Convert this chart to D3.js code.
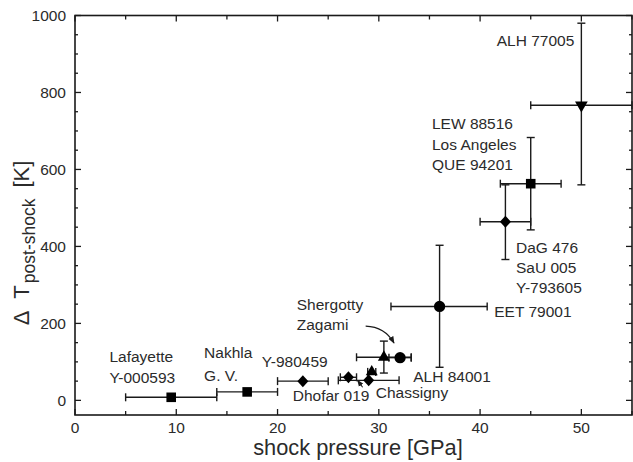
<!DOCTYPE html>
<html>
<head>
<meta charset="utf-8">
<script src="https://cdn.jsdelivr.net/npm/d3@7"></script>
<style>
  html, body { margin: 0; padding: 0; background: #fff; }
  svg { display: block; font-family: "Liberation Sans", Arial, sans-serif; }
</style>
</head>
<body>
<svg id="chart" width="633" height="462"></svg>
<script>
// Martian meteorites: post-shock temperature increase vs. shock pressure
const meteorites = ["Lafayette", "Nakhla", "Y-980459", "Dhofar 019", "Chassigny", "Shergotty (b)",
                    "Shergotty", "ALH 84001", "EET 79001", "DaG 476", "LEW 88516", "ALH 77005"];
const shock     = [9.5, 17,   22.5, 27,   29,   29.3, 30.5, 32.1, 36,   42.5, 45,   50];
const shockLow  = [5,   14,   20,   26.2, 26,   28.9, 27.8, 31,   31.2, 40,   42,   45];
const shockHigh = [14,  20,   25,   27.8, 32,   29.7, 33.2, 33.2, 40.7, 45,   48,   55];
const deltaT    = [8,   22,   50,   60,   52,   74,   112,  111,  244,  464,  563,  767];
const deltaTLow  = [null, null, null, null, null, null, 71,  null, 86,  366, 443, 560];
const deltaTHigh = [null, null, null, null, null, null, 154, null, 403, 560, 683, 980];
const markers   = ["square", "square", "diamond", "diamond", "diamond", "triangle",
                   "triangle", "circle", "circle", "diamond", "square", "triangleDown"];

const xTicks = [0, 10, 20, 30, 40, 50];
const yTicks = [0, 200, 400, 600, 800, 1000];

// Text annotations (anchor in data units, lines stacked downward)
const labels = [
  { lines: ["Lafayette", "Y-000593"], x: 3.4, y: 100, anchor: "start", gap: 21 },
  { lines: ["Nakhla", "G. V."], x: 12.75, y: 110, anchor: "start", gap: 22.5 },
  { lines: ["Y-980459"], x: 18.45, y: 88, anchor: "start" },
  { lines: ["Dhofar 019"], x: 21.5, y: -2, anchor: "start" },
  { lines: ["Chassigny"], x: 29.7, y: 6, anchor: "start" },
  { lines: ["ALH 84001"], x: 33.4, y: 49, anchor: "start" },
  { lines: ["Shergotty", "Zagami"], x: 21.9, y: 236, anchor: "start", gap: 20.5 },
  { lines: ["EET 79001"], x: 41.4, y: 217, anchor: "start" },
  { lines: ["DaG 476", "SaU 005", "Y-793605"], x: 43.55, y: 384, anchor: "start", gap: 20 },
  { lines: ["LEW 88516", "Los Angeles", "QUE 94201"], x: 35.25, y: 705, anchor: "start", gap: 20.5 },
  { lines: ["ALH 77005"], x: 49.3, y: 922, anchor: "end" }
];

const svg = d3.select("#chart");
const plotL = 75, plotR = 632, plotT = 15.5, plotB = 415;
const x = d3.scaleLinear().domain([0, 55]).range([plotL, plotR]);
const y = d3.scaleLinear().domain([-38, 1000]).range([plotB, plotT]);
const ink = "#1a1a1a";
const textInk = "#2b2b2b";

// Frame
svg.append("rect")
  .attr("x", plotL).attr("y", plotT)
  .attr("width", plotR - plotL).attr("height", plotB - plotT)
  .attr("fill", "none").attr("stroke", ink).attr("stroke-width", 1.6);

// Inward ticks on all four sides
const xMinor = d3.range(0, 56, 5);
const yMinor = d3.range(0, 1001, 50);
const tickG = svg.append("g").attr("stroke", ink).attr("stroke-width", 1.3);
xMinor.forEach(v => {
  const len = v % 10 === 0 ? 6 : 4;
  tickG.append("line").attr("x1", x(v)).attr("x2", x(v)).attr("y1", plotB).attr("y2", plotB - len);
  tickG.append("line").attr("x1", x(v)).attr("x2", x(v)).attr("y1", plotT).attr("y2", plotT + len);
});
yMinor.forEach(v => {
  const len = v % 200 === 0 ? 6 : 3;
  tickG.append("line").attr("y1", y(v)).attr("y2", y(v)).attr("x1", plotL).attr("x2", plotL + len);
  tickG.append("line").attr("y1", y(v)).attr("y2", y(v)).attr("x1", plotR).attr("x2", plotR - len);
});

// Tick labels
svg.append("g").selectAll("text").data(xTicks).join("text")
  .attr("x", d => x(d)).attr("y", 433)
  .attr("text-anchor", "middle").attr("font-size", 15.5).attr("fill", textInk)
  .text(d => d);
svg.append("g").selectAll("text").data(yTicks).join("text")
  .attr("x", 66).attr("y", d => y(d) + 5.5)
  .attr("text-anchor", "end").attr("font-size", 15.5).attr("fill", textInk)
  .text(d => d);

// Axis titles
svg.append("text")
  .attr("x", 358).attr("y", 455)
  .attr("text-anchor", "middle").attr("font-size", 21.8).attr("fill", textInk)
  .text("shock pressure [GPa]");

const yTitle = svg.append("text")
  .attr("transform", "translate(29,243) rotate(-90)")
  .attr("text-anchor", "middle").attr("font-size", 22).attr("fill", textInk);
yTitle.append("tspan").text("\u0394");
yTitle.append("tspan").attr("dx", 12).text("T");
yTitle.append("tspan").attr("font-size", 17.5).attr("dx", 2).attr("dy", 5.5).text("post-shock");
yTitle.append("tspan").attr("dx", 11).attr("dy", -5.5).text("[K]");

// Error bars
const cap = 4;
const bars = svg.append("g").attr("stroke", ink).attr("stroke-width", 1.4).attr("fill", "none");
shock.forEach((s, i) => {
  const cy = y(deltaT[i]);
  bars.append("line").attr("x1", x(shockLow[i])).attr("x2", x(shockHigh[i])).attr("y1", cy).attr("y2", cy);
  [shockLow[i], shockHigh[i]].forEach(v => {
    bars.append("line").attr("x1", x(v)).attr("x2", x(v)).attr("y1", cy - cap).attr("y2", cy + cap);
  });
  if (deltaTLow[i] !== null) {
    const cx = x(s);
    bars.append("line").attr("x1", cx).attr("x2", cx).attr("y1", y(deltaTLow[i])).attr("y2", y(deltaTHigh[i]));
    [deltaTLow[i], deltaTHigh[i]].forEach(v => {
      bars.append("line").attr("x1", cx - cap).attr("x2", cx + cap).attr("y1", y(v)).attr("y2", y(v));
    });
  }
});

// Markers
function markerPath(kind) {
  switch (kind) {
    case "square": return d3.symbol(d3.symbolSquare, 92)();
    case "circle": return d3.symbol(d3.symbolCircle, 100)();
    case "triangle": return d3.symbol(d3.symbolTriangle, 62)();
    case "triangleDown": return d3.symbol(d3.symbolTriangle, 70)();
    case "diamond": return "M0,-6L5.5,0L0,6L-5.5,0Z";
  }
}
svg.append("g").selectAll("path").data(shock).join("path")
  .attr("d", (d, i) => markerPath(markers[i]))
  .attr("transform", (d, i) => `translate(${x(d)},${y(deltaT[i])})` + (markers[i] === "triangleDown" ? " rotate(180)" : ""))
  .attr("fill", "#000");

// Labels
labels.forEach(l => {
  const t = svg.append("text")
    .attr("font-size", 15.5).attr("fill", textInk).attr("text-anchor", l.anchor);
  l.lines.forEach((line, k) => {
    t.append("tspan").attr("x", x(l.x)).attr("y", y(l.y) + k * (l.gap || 20)).text(line);
  });
});

// Pointer arrows
svg.append("defs").append("marker")
  .attr("id", "head").attr("viewBox", "0 0 10 10").attr("refX", 9).attr("refY", 5)
  .attr("markerWidth", 6).attr("markerHeight", 6).attr("orient", "auto-start-reverse")
  .append("path").attr("d", "M0,1L10,5L0,9Z").attr("fill", ink);

svg.append("path")
  .attr("d", `M${x(28.7)},${y(193)} Q${x(30.6)},${y(191)} ${x(31.5)},${y(149)}`)
  .attr("fill", "none").attr("stroke", ink).attr("stroke-width", 1.2)
  .attr("marker-end", "url(#head)");

svg.append("line")
  .attr("x1", x(28.4)).attr("y1", y(34)).attr("x2", x(27.9)).attr("y2", y(52))
  .attr("stroke", ink).attr("stroke-width", 1.1).attr("marker-end", "url(#head)");
</script>
</body>
</html>
